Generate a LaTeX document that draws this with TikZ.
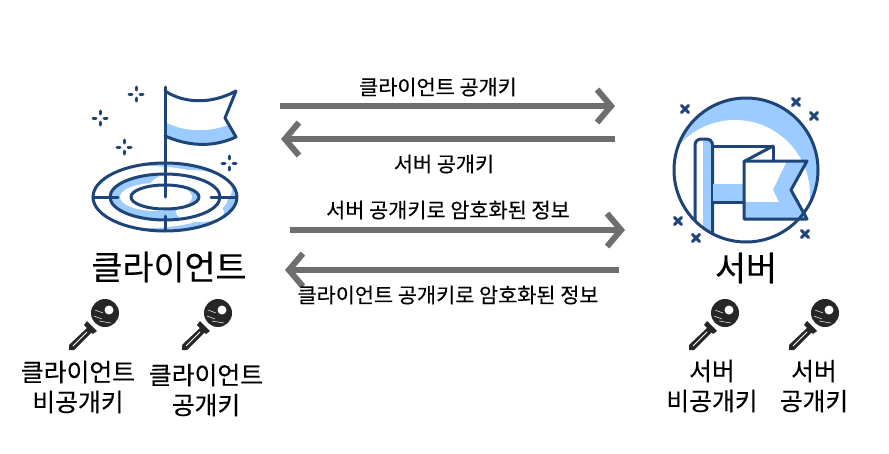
\documentclass[tikz,border=0pt]{standalone}
\usepackage{fontspec}
\setmainfont{Noto Sans CJK KR}[FakeBold=0.25]
\usetikzlibrary{arrows.meta}
\definecolor{icondark}{HTML}{1F4478}
\definecolor{iconblue}{HTML}{9CCBFF}
\definecolor{arrowgray}{HTML}{6E6E6E}
\tikzset{
    iconline/.style={draw=icondark,line width=3pt,line cap=round,line join=round},
    flow/.style={draw=arrowgray,line width=6pt,-{Straight Barb[length=14pt,width=33pt]}},
    flowtext/.style={font=\fontsize{20.8}{20.8}\selectfont,inner sep=0pt},
    titletext/.style={font=\fontsize{33.7}{33.7}\selectfont,inner sep=0pt},
    keytext/.style={font=\fontsize{24.8}{30}\selectfont,align=center,inner sep=0pt},
    keyicon/.pic={
        \fill[black!85] (0,0) circle (14pt);
        \draw[white,line width=.5pt] (-11,3)--(-3,6) (-10,-3)--(-2,0) (-6,8)--(6,10);
        \fill[white] (4,-3) circle (4.5pt);
        \fill[black!85] (-18,8)--(-8,18)--(-12,21)--(-21,12)--cycle;
        \fill[black!85] (-17,14)--(-36,32)--(-36,37)--(-31,37)--(-13,19)--cycle;
        \draw[white,line width=.9pt] (-18,19)--(-32,33);
    },
    sparkle/.pic={
        \draw[iconline] (-7,0)--(-4,0) (4,0)--(7,0) (0,-7)--(0,-4) (0,4)--(0,7);
    },
    xmark/.pic={
        \draw[iconline] (-3.5,-3.5)--(3.5,3.5) (-3.5,3.5)--(3.5,-3.5);
    }
}

\begin{document}
\begin{tikzpicture}[x=1pt,y=-1pt]
    \useasboundingbox (0,0) rectangle (889,453);

    % client icon
    \begin{scope}
        \clip (165,197) ellipse [x radius=72pt,y radius=34pt];
        \fill[iconblue] (165,197) ellipse [x radius=72pt,y radius=34pt];
        \fill[white] (148,197) ellipse [x radius=80pt,y radius=31pt];
        \fill[iconblue] (165,197) ellipse [x radius=55pt,y radius=23pt];
        \fill[white] (190,190) ellipse [x radius=42pt,y radius=20pt];
        \fill[white] (200,212) ellipse [x radius=24pt,y radius=10pt];
        \fill[iconblue] (165,197) ellipse [x radius=34pt,y radius=12pt];
        \fill[white] (156,197) ellipse [x radius=36pt,y radius=14pt];
    \end{scope}
    \draw[iconline] (165,197) ellipse [x radius=72pt,y radius=34pt];
    \draw[iconline] (165,197) ellipse [x radius=55pt,y radius=23pt];
    \draw[iconline] (165,197) ellipse [x radius=34pt,y radius=12pt];
    \draw[iconline] (93,197)--(118,197);
    \draw[iconline] (211,197)--(236,197);
    \draw[iconline] (165,216)--(165,230);
    \fill[iconblue] (165,122) .. controls (185,133) and (210,132) .. (228,125) -- (236,137) .. controls (212,148) and (188,146) .. (165,136) -- cycle;
    \draw[iconline] (165,87)--(165,197);
    \draw[iconline] (165,91) .. controls (185,104) and (212,104) .. (236,91) -- (225,118) -- (236,137) .. controls (212,148) and (188,146) .. (165,136);
    \pic at (136,94) {sparkle};
    \pic at (100,118) {sparkle};
    \pic at (124,147) {sparkle};
    \pic at (229,163) {sparkle};

    % server icon
    \begin{scope}
        \clip (746,170) circle (72pt);
        \fill[iconblue] (746,170) circle (72pt);
        \fill[white] (735,195) circle (75pt);
        \fill[white] (695,139) rectangle (712,240);
        \fill[iconblue] (703,139) rectangle (712,240);
        \draw[iconline,rounded corners=6pt] (695,260)--(695,139)--(712.5,139)--(712.5,260);
    \end{scope}
    \fill[iconblue] (713,184) rectangle (745,202);
    \fill[iconblue] (787,161)--(807,161)--(791,190)--(807,219)--(744,219)--(744,202)--(779,202)--(773,190)--cycle;
    \draw[iconline] (713,146)--(773,146)--(773,161);
    \draw[iconline] (773,146)--(745,161);
    \draw[iconline] (713,202)--(744,202);
    \draw[iconline] (744,161)--(807,161)--(791,190)--(807,219)--(744,219)--cycle;
    \draw[iconline] (746,170) circle (72pt);
    \pic at (685,109) {xmark};
    \pic at (796,102) {xmark};
    \pic at (814,116) {xmark};
    \pic at (678,221) {xmark};
    \pic at (696,238) {xmark};
    \pic at (805,234) {xmark};

    % arrows
    \coordinate (pub1a) at (280,106);
    \coordinate (pub1b) at (615,106);
    \coordinate (pub2a) at (615,139);
    \coordinate (pub2b) at (281,139);
    \coordinate (enc1a) at (290,230);
    \coordinate (enc1b) at (625,230);
    \coordinate (enc2a) at (619,270);
    \coordinate (enc2b) at (285,270);
    \draw[flow] (pub1a) -- (pub1b);
    \draw[flow] (pub2a) -- (pub2b);
    \draw[flow] (enc1a) -- (enc1b);
    \draw[flow] (enc2a) -- (enc2b);

    \node[flowtext] (pub1text) at (438,87) {클라이언트 공개키};
    \node[flowtext] (pub2text) at (444,164) {서버 공개키};
    \node[flowtext] (enc1text) at (448,210) {서버 공개키로 암호화된 정보};
    \node[flowtext] (enc2text) at (448,295) {클라이언트 공개키로 암호화된 정보};

    \node[titletext] (client) at (169,267) {클라이언트};
    \node[titletext] (server) at (746,268) {서버};

    % keys
    \pic at (105,313) {keyicon};
    \pic at (218,313) {keyicon};
    \pic at (725,313) {keyicon};
    \pic at (825,313) {keyicon};
    \node[keytext] (clientpriv) at (78,387) {클라이언트\\비공개키};
    \node[keytext] (clientpub) at (206,390) {클라이언트\\공개키};
    \node[keytext] (serverpriv) at (712,386) {서버\\비공개키};
    \node[keytext] (serverpub) at (814,386) {서버\\공개키};
\end{tikzpicture}
\end{document}
